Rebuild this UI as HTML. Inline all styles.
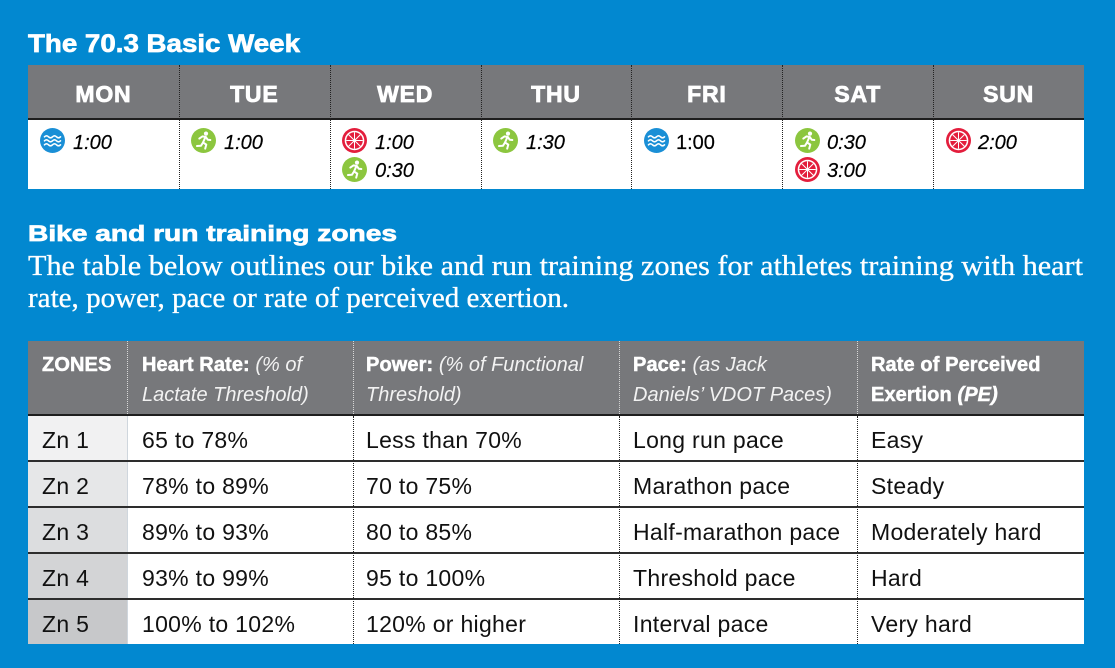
<!DOCTYPE html>
<html>
<head>
<meta charset="utf-8">
<style>
  html,body{margin:0;padding:0}
  body{width:1115px;height:668px;background:#0288d0;position:relative;overflow:hidden;font-family:"Liberation Sans",Arial,sans-serif}
  .a{position:absolute;white-space:nowrap}
  .hd{font-weight:bold;color:#fff;-webkit-text-stroke:0.7px #fff}
  .day{position:absolute;top:82.5px;width:150.86px;text-align:center;font-size:23px;line-height:23px;font-weight:bold;color:#fff;-webkit-text-stroke:0.8px #fff;letter-spacing:0.8px}
  .tm{position:absolute;font-size:20px;line-height:20px;font-style:italic;color:#000;white-space:nowrap;-webkit-text-stroke:0.2px #000}
  .ic{position:absolute;width:25px;height:25px}
  .vd{position:absolute;width:0;border-left:1px dotted #222}
  .vl{position:absolute;width:0;border-left:1px dotted #d8d8d8}
  .th{position:absolute;font-size:20px;line-height:20px;color:#fff;white-space:nowrap}
  .th b{font-weight:bold;-webkit-text-stroke:0.5px #fff;letter-spacing:0.1px}
  .th i{font-weight:normal;color:#f2f2f2}
  .td{position:absolute;font-size:23px;line-height:23px;color:#111;white-space:nowrap;letter-spacing:0.3px}
  .row{position:absolute;left:28px;width:1056px;height:46px;box-sizing:border-box;border-top:2px solid #2d2d2d;background:#fff}
  .zc{position:absolute;left:0;top:0;width:99px;height:44px;border-right:1px solid #cfd6dd}
</style>
</head>
<body>

<!-- Title 1 -->
<div id="t1" class="a hd" style="left:28px;top:31.8px;font-size:25px;line-height:25px;">The 70.3 Basic Week</div>

<!-- Table 1 -->
<div class="a" style="left:28px;top:65px;width:1056px;height:53px;background:#77787b"></div>
<div class="a" style="left:28px;top:118px;width:1056px;height:2px;background:#1e1e1e"></div>
<div class="a" style="left:28px;top:120px;width:1056px;height:69px;background:#fff"></div>

<div class="vd" style="left:179px;top:65px;height:124px"></div>
<div class="vd" style="left:330px;top:65px;height:124px"></div>
<div class="vd" style="left:481px;top:65px;height:124px"></div>
<div class="vd" style="left:631px;top:65px;height:124px"></div>
<div class="vd" style="left:782px;top:65px;height:124px"></div>
<div class="vd" style="left:933px;top:65px;height:124px"></div>

<div class="day" style="left:28px">MON</div>
<div class="day" style="left:178.86px">TUE</div>
<div class="day" style="left:329.71px">WED</div>
<div class="day" style="left:480.57px">THU</div>
<div class="day" style="left:631.43px">FRI</div>
<div class="day" style="left:782.29px">SAT</div>
<div class="day" style="left:933.14px">SUN</div>

<!-- MON swim -->
<svg class="ic" style="left:40px;top:128px" viewBox="0 0 25 25"><circle cx="12.5" cy="12.5" r="12.5" fill="#1a8fd6"/><g stroke="#fff" stroke-width="1.6" fill="none" stroke-linecap="round"><path d="M4.5 8.8 q2 -2 4 0 t4 0 t4 0 t4 0"/><path d="M4.5 12.8 q2 -2 4 0 t4 0 t4 0 t4 0"/><path d="M4.5 16.8 q2 -2 4 0 t4 0 t4 0 t4 0"/></g></svg>
<div class="tm" style="left:73px;top:132.6px">1:00</div>

<!-- TUE run -->
<svg class="ic" style="left:191px;top:128px" viewBox="0 0 25 25"><circle cx="12.5" cy="12.5" r="12.5" fill="#8cc63f"/><circle cx="15" cy="5.6" r="2.1" fill="#fff"/><g stroke="#fff" stroke-width="2" fill="none" stroke-linecap="round" stroke-linejoin="round"><path d="M8.3 10.6 L11.4 8.4 L14.8 9 L16.8 11.8 L19.3 12"/><path d="M14.4 9.2 L12 14.5 L15.3 16.6 L14.2 20.6"/><path d="M12 14.5 L10 17.7 L6 18"/></g></svg>
<div class="tm" style="left:224px;top:132.6px">1:00</div>

<!-- WED bike + run -->
<svg class="ic" style="left:342px;top:128px" viewBox="0 0 25 25"><circle cx="12.5" cy="12.5" r="12.5" fill="#e31d3c"/><circle cx="12.5" cy="12.5" r="9.8" fill="#fff"/><circle cx="12.5" cy="12.5" r="8.3" fill="#e31d3c"/><g stroke="#fff" stroke-width="1"><line x1="12.5" y1="4.2" x2="12.5" y2="20.8"/><line x1="4.2" y1="12.5" x2="20.8" y2="12.5"/><line x1="6.6" y1="6.6" x2="18.4" y2="18.4"/><line x1="18.4" y1="6.6" x2="6.6" y2="18.4"/></g><circle cx="12.5" cy="12.5" r="1.3" fill="#fff"/></svg>
<div class="tm" style="left:375px;top:132.6px">1:00</div>
<svg class="ic" style="left:342px;top:157px" viewBox="0 0 25 25"><circle cx="12.5" cy="12.5" r="12.5" fill="#8cc63f"/><circle cx="15" cy="5.6" r="2.1" fill="#fff"/><g stroke="#fff" stroke-width="2" fill="none" stroke-linecap="round" stroke-linejoin="round"><path d="M8.3 10.6 L11.4 8.4 L14.8 9 L16.8 11.8 L19.3 12"/><path d="M14.4 9.2 L12 14.5 L15.3 16.6 L14.2 20.6"/><path d="M12 14.5 L10 17.7 L6 18"/></g></svg>
<div class="tm" style="left:375px;top:160.6px">0:30</div>

<!-- THU run -->
<svg class="ic" style="left:493px;top:128px" viewBox="0 0 25 25"><circle cx="12.5" cy="12.5" r="12.5" fill="#8cc63f"/><circle cx="15" cy="5.6" r="2.1" fill="#fff"/><g stroke="#fff" stroke-width="2" fill="none" stroke-linecap="round" stroke-linejoin="round"><path d="M8.3 10.6 L11.4 8.4 L14.8 9 L16.8 11.8 L19.3 12"/><path d="M14.4 9.2 L12 14.5 L15.3 16.6 L14.2 20.6"/><path d="M12 14.5 L10 17.7 L6 18"/></g></svg>
<div class="tm" style="left:526px;top:132.6px">1:30</div>

<!-- FRI swim -->
<svg class="ic" style="left:644px;top:128px" viewBox="0 0 25 25"><circle cx="12.5" cy="12.5" r="12.5" fill="#1a8fd6"/><g stroke="#fff" stroke-width="1.6" fill="none" stroke-linecap="round"><path d="M4.5 8.8 q2 -2 4 0 t4 0 t4 0 t4 0"/><path d="M4.5 12.8 q2 -2 4 0 t4 0 t4 0 t4 0"/><path d="M4.5 16.8 q2 -2 4 0 t4 0 t4 0 t4 0"/></g></svg>
<div class="tm" style="left:676px;top:132.6px;font-style:normal">1:00</div>

<!-- SAT run + bike -->
<svg class="ic" style="left:795px;top:128px" viewBox="0 0 25 25"><circle cx="12.5" cy="12.5" r="12.5" fill="#8cc63f"/><circle cx="15" cy="5.6" r="2.1" fill="#fff"/><g stroke="#fff" stroke-width="2" fill="none" stroke-linecap="round" stroke-linejoin="round"><path d="M8.3 10.6 L11.4 8.4 L14.8 9 L16.8 11.8 L19.3 12"/><path d="M14.4 9.2 L12 14.5 L15.3 16.6 L14.2 20.6"/><path d="M12 14.5 L10 17.7 L6 18"/></g></svg>
<div class="tm" style="left:827px;top:132.6px">0:30</div>
<svg class="ic" style="left:795px;top:157px" viewBox="0 0 25 25"><circle cx="12.5" cy="12.5" r="12.5" fill="#e31d3c"/><circle cx="12.5" cy="12.5" r="9.8" fill="#fff"/><circle cx="12.5" cy="12.5" r="8.3" fill="#e31d3c"/><g stroke="#fff" stroke-width="1"><line x1="12.5" y1="4.2" x2="12.5" y2="20.8"/><line x1="4.2" y1="12.5" x2="20.8" y2="12.5"/><line x1="6.6" y1="6.6" x2="18.4" y2="18.4"/><line x1="18.4" y1="6.6" x2="6.6" y2="18.4"/></g><circle cx="12.5" cy="12.5" r="1.3" fill="#fff"/></svg>
<div class="tm" style="left:827px;top:160.6px">3:00</div>

<!-- SUN bike -->
<svg class="ic" style="left:946px;top:128px" viewBox="0 0 25 25"><circle cx="12.5" cy="12.5" r="12.5" fill="#e31d3c"/><circle cx="12.5" cy="12.5" r="9.8" fill="#fff"/><circle cx="12.5" cy="12.5" r="8.3" fill="#e31d3c"/><g stroke="#fff" stroke-width="1"><line x1="12.5" y1="4.2" x2="12.5" y2="20.8"/><line x1="4.2" y1="12.5" x2="20.8" y2="12.5"/><line x1="6.6" y1="6.6" x2="18.4" y2="18.4"/><line x1="18.4" y1="6.6" x2="6.6" y2="18.4"/></g><circle cx="12.5" cy="12.5" r="1.3" fill="#fff"/></svg>
<div class="tm" style="left:978px;top:132.6px">2:00</div>

<!-- Title 2 + paragraph -->
<div id="t2" class="a hd" style="left:28px;top:223.4px;font-size:22px;line-height:22px;">Bike and run training zones</div>
<div id="p1" class="a" style="left:28px;top:252.8px;font-family:'Liberation Serif',serif;font-size:28px;line-height:28px;color:#fff;-webkit-text-stroke:0.3px #fff">The table below outlines our bike and run training zones for athletes training with heart</div>
<div id="p2" class="a" style="left:28px;top:284.8px;font-family:'Liberation Serif',serif;font-size:28px;line-height:28px;color:#fff;-webkit-text-stroke:0.3px #fff">rate, power, pace or rate of perceived exertion.</div>

<!-- Table 2 -->
<div class="a" style="left:28px;top:341px;width:1056px;height:73px;background:#77787b"></div>
<div class="a" style="left:28px;top:414px;width:1056px;height:2px;background:#1e1e1e"></div>

<div class="row" style="top:414px;border-top-color:#1e1e1e"><div class="zc" style="background:#f1f1f2"></div></div>
<div class="row" style="top:460px"><div class="zc" style="background:#e6e7e8"></div></div>
<div class="row" style="top:506px"><div class="zc" style="background:#dcdddf"></div></div>
<div class="row" style="top:552px"><div class="zc" style="background:#d3d4d6"></div></div>
<div class="row" style="top:598px"><div class="zc" style="background:#c7c8ca"></div></div>

<div class="vl" style="left:127px;top:341px;height:73px"></div>
<div class="vl" style="left:353px;top:341px;height:73px"></div>
<div class="vl" style="left:619px;top:341px;height:73px"></div>
<div class="vl" style="left:857px;top:341px;height:73px"></div>
<div class="vd" style="left:353px;top:416px;height:228px"></div>
<div class="vd" style="left:619px;top:416px;height:228px"></div>
<div class="vd" style="left:857px;top:416px;height:228px"></div>

<!-- header text -->
<div class="th" style="left:42px;top:355px"><b>ZONES</b></div>
<div class="th" style="left:142px;top:355px"><b>Heart Rate:</b> <i>(% of</i></div>
<div class="th" style="left:142px;top:385px"><i>Lactate Threshold)</i></div>
<div class="th" style="left:366px;top:355px"><b>Power:</b> <i>(% of Functional</i></div>
<div class="th" style="left:366px;top:385px"><i>Threshold)</i></div>
<div class="th" style="left:633px;top:355px"><b>Pace:</b> <i>(as Jack</i></div>
<div class="th" style="left:633px;top:385px"><i>Daniels’ VDOT Paces)</i></div>
<div class="th" style="left:871px;top:355px"><b>Rate of Perceived</b></div>
<div class="th" style="left:871px;top:385px"><b>Exertion <i style="font-weight:bold;color:#fff">(PE)</i></b></div>

<!-- body rows -->
<div class="td" style="left:42px;top:428.5px">Zn 1</div>
<div class="td" style="left:142px;top:428.5px">65 to 78%</div>
<div class="td" style="left:366px;top:428.5px">Less than 70%</div>
<div class="td" style="left:633px;top:428.5px">Long run pace</div>
<div class="td" style="left:871px;top:428.5px">Easy</div>

<div class="td" style="left:42px;top:474.5px">Zn 2</div>
<div class="td" style="left:142px;top:474.5px">78% to 89%</div>
<div class="td" style="left:366px;top:474.5px">70 to 75%</div>
<div class="td" style="left:633px;top:474.5px">Marathon pace</div>
<div class="td" style="left:871px;top:474.5px">Steady</div>

<div class="td" style="left:42px;top:520.5px">Zn 3</div>
<div class="td" style="left:142px;top:520.5px">89% to 93%</div>
<div class="td" style="left:366px;top:520.5px">80 to 85%</div>
<div class="td" style="left:633px;top:520.5px">Half-marathon pace</div>
<div class="td" style="left:871px;top:520.5px">Moderately hard</div>

<div class="td" style="left:42px;top:566.5px">Zn 4</div>
<div class="td" style="left:142px;top:566.5px">93% to 99%</div>
<div class="td" style="left:366px;top:566.5px">95 to 100%</div>
<div class="td" style="left:633px;top:566.5px">Threshold pace</div>
<div class="td" style="left:871px;top:566.5px">Hard</div>

<div class="td" style="left:42px;top:612.5px">Zn 5</div>
<div class="td" style="left:142px;top:612.5px">100% to 102%</div>
<div class="td" style="left:366px;top:612.5px">120% or higher</div>
<div class="td" style="left:633px;top:612.5px">Interval pace</div>
<div class="td" style="left:871px;top:612.5px">Very hard</div>

<script>
(function(){
  var targets = {t1:272, t2:369, p1:1055, p2:541};
  for (var id in targets){
    var el = document.getElementById(id);
    if(!el) continue;
    el.style.display='inline-block';
    var w = el.getBoundingClientRect().width;
    if(w>0){
      el.style.transformOrigin='0 0';
      el.style.transform='scaleX('+(targets[id]/w)+')';
    }
  }
})();
</script>
</body>
</html>
